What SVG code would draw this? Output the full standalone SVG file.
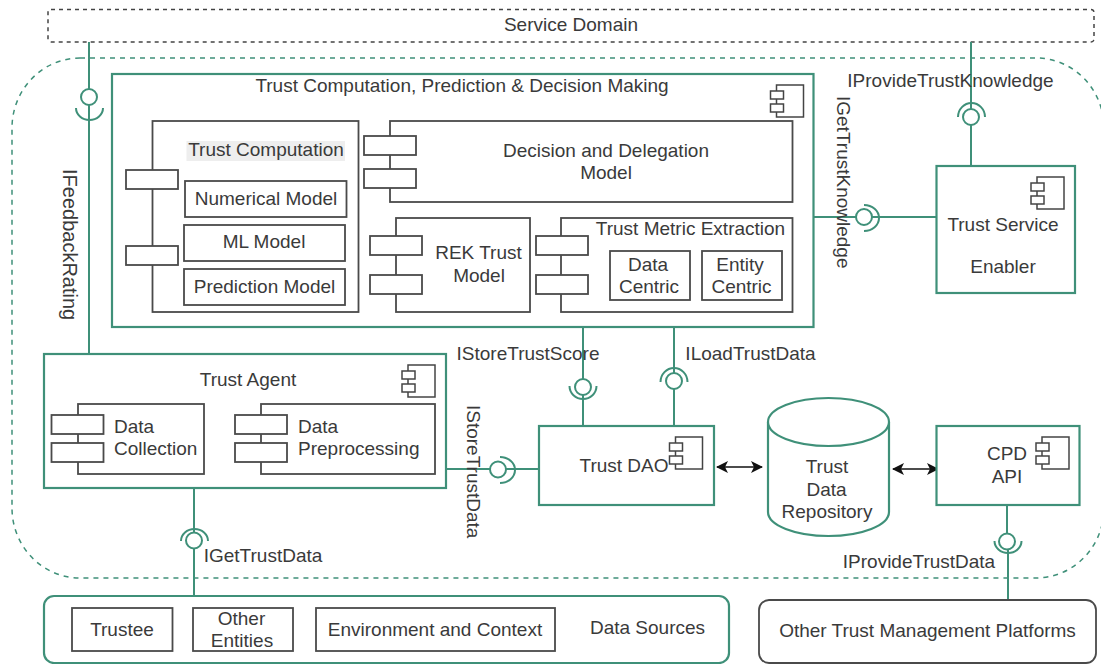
<svg xmlns="http://www.w3.org/2000/svg" width="1101" height="664" viewBox="0 0 1101 664">
<style>
text{font-family:"Liberation Sans",Arial,sans-serif;font-size:19px;fill:#3a3a3a;text-anchor:middle}
.s{text-anchor:start}
.g{fill:#fff;stroke:#3f9079;stroke-width:2.2}
.k{fill:#fff;stroke:#4a4a4a;stroke-width:1.8}
.i{fill:#fff;stroke:#444;stroke-width:1.5}
.c{fill:none;stroke:#3f9079;stroke-width:2}
.l{fill:#fff;stroke:#3f9079;stroke-width:2}
.a{fill:none;stroke:#111;stroke-width:1.6;marker-start:url(#ah);marker-end:url(#ah)}
</style>
<defs>
<marker id="ah" markerWidth="13" markerHeight="12" refX="11" refY="6" orient="auto-start-reverse" markerUnits="userSpaceOnUse" viewBox="0 0 13 12"><path d="M0 0L12 6L0 12L3 6Z" fill="#111"/></marker>
<g id="icon"><rect class="i" x="6" y="0" width="27" height="32"/><rect class="i" x="0" y="6" width="13" height="8"/><rect class="i" x="0" y="19" width="13" height="8"/></g>
</defs>
<rect x="12" y="58" width="1092" height="520" rx="68" ry="70" fill="none" stroke="#3f9079" stroke-width="1.500" stroke-dasharray="5 5"/>
<g id="service-domain"><rect x="48" y="9.500" width="1046" height="32.500" rx="3" fill="none" stroke="#444" stroke-width="1.500" stroke-dasharray="4 4"/><text x="571" y="31">Service Domain</text></g>
<g id="connectors">
<path class="c" d="M89 42V354M971 42V166M814 217H936M583 327V426M674 327V426M446 469H539M194 488V596M1007 505V535M1008 545V600"/>
<path class="c" d="M76 108A13.500 12 0 0 0 103 108M958 117A13.500 14 0 0 1 985 117M864 205A15 13 0 0 1 864 231M569.500 386A13.500 13 0 0 0 596.500 386M660.500 382A13.500 14 0 0 1 687.500 382M500 457A15 13 0 0 1 500 483M181 541A13.500 12 0 0 1 208 541M994.500 541A13.500 12 0 0 0 1021.500 541"/>
<circle class="l" cx="89" cy="97" r="8"/><circle class="l" cx="971" cy="117" r="8"/><circle class="l" cx="864" cy="217" r="8"/><circle class="l" cx="583" cy="387" r="8"/><circle class="l" cx="674" cy="381" r="8"/><circle class="l" cx="498" cy="469.500" r="8"/><circle class="l" cx="194" cy="540.500" r="8"/><circle class="l" cx="1007" cy="541.500" r="8"/>
<path class="a" d="M717 467H762"/><path class="a" d="M893 469H938"/>
</g>
<g id="trust-computation-prediction">
<rect class="g" x="112" y="74" width="701.500" height="253"/>
<text x="462" y="92">Trust Computation, Prediction &amp; Decision Making</text>
<use href="#icon" x="770.500" y="85"/>
</g>
<g id="trust-computation">
<rect class="k" x="152.500" y="121" width="206" height="191"/>
<rect x="186.500" y="141" width="158.500" height="20" fill="#eee"/>
<text x="266" y="156">Trust Computation</text>
<rect class="k" x="126" y="170" width="52" height="19"/><rect class="k" x="126" y="246" width="52" height="19"/>
<rect class="k" x="185" y="181" width="161.500" height="36"/><text x="266" y="205">Numerical Model</text>
<rect class="k" x="184" y="225" width="161" height="36"/><text x="264" y="248">ML Model</text>
<rect class="k" x="184" y="269" width="161" height="36"/><text x="264.500" y="293">Prediction Model</text>
</g>
<g id="decision-delegation">
<rect class="k" x="390" y="121" width="402.500" height="81"/>
<rect class="k" x="364" y="136" width="52" height="19"/><rect class="k" x="364" y="169" width="52" height="19"/>
<text x="606" y="157">Decision and Delegation</text><text x="606" y="179">Model</text>
</g>
<g id="rek-trust-model">
<rect class="k" x="396" y="218" width="134" height="94"/>
<rect class="k" x="370" y="236" width="52" height="19"/><rect class="k" x="370" y="275" width="52" height="19"/>
<text x="478.500" y="259">REK Trust</text><text x="479" y="282">Model</text>
</g>
<g id="trust-metric-extraction">
<rect class="k" x="561" y="218" width="231.500" height="94"/>
<rect class="k" x="536" y="236" width="52" height="19"/><rect class="k" x="536" y="275" width="52" height="19"/>
<text x="690.500" y="235">Trust Metric Extraction</text>
<rect class="k" x="610" y="251" width="80" height="49"/><text x="648" y="271">Data</text><text x="649" y="293">Centric</text>
<rect class="k" x="702" y="251" width="80" height="49"/><text x="740" y="271">Entity</text><text x="741.500" y="293">Centric</text>
</g>
<g id="trust-service-enabler">
<rect class="g" x="936.500" y="166" width="138.500" height="127"/>
<use href="#icon" x="1031" y="177"/>
<text x="1003" y="231">Trust Service</text><text x="1003" y="273">Enabler</text>
</g>
<g id="trust-agent">
<rect class="g" x="44" y="354" width="402" height="134"/>
<text x="248" y="386">Trust Agent</text>
<use href="#icon" x="402" y="365"/>
<rect class="k" x="78" y="404" width="126" height="70"/>
<rect class="k" x="51.500" y="415" width="52" height="19"/><rect class="k" x="51.500" y="443" width="52" height="19"/>
<text class="s" x="114" y="433">Data</text><text class="s" x="114" y="455">Collection</text>
<rect class="k" x="261" y="404" width="174" height="70"/>
<rect class="k" x="235" y="415" width="52" height="19"/><rect class="k" x="235" y="443" width="52" height="19"/>
<text class="s" x="298" y="433">Data</text><text class="s" x="298" y="455">Preprocessing</text>
</g>
<g id="trust-dao">
<rect class="g" x="539" y="426" width="175" height="79"/>
<text x="624" y="472">Trust DAO</text>
<use href="#icon" x="669.500" y="437"/>
</g>
<g id="trust-data-repository">
<path class="g" d="M768 422V512A60.500 24 0 0 0 889 512V422"/><ellipse class="g" cx="828.500" cy="422" rx="60.500" ry="24"/>
<text x="827" y="473">Trust</text><text x="826.500" y="496">Data</text><text x="827" y="518">Repository</text>
</g>
<g id="cpd-api">
<rect class="g" x="936.500" y="426" width="143" height="79"/>
<text x="1007" y="460">CPD</text><text x="1007" y="483">API</text>
<use href="#icon" x="1036" y="437"/>
</g>
<g id="data-sources">
<rect class="g" x="44" y="596" width="685" height="67" rx="10"/>
<rect class="k" x="72" y="608" width="100.500" height="43"/><text x="122" y="636">Trustee</text>
<rect class="k" x="193" y="608" width="100" height="43"/><text x="241.500" y="625">Other</text><text x="242" y="647">Entities</text>
<rect class="k" x="316" y="608" width="239" height="43"/><text x="435" y="636">Environment and Context</text>
<text x="647.500" y="634">Data Sources</text>
</g>
<g id="other-platforms">
<rect x="759" y="600" width="337" height="63" rx="10" fill="#fff" stroke="#4a4a4a" stroke-width="1.800"/>
<text x="927.500" y="637">Other Trust Management Platforms</text>
</g>
<g id="labels">
<text x="950.500" y="87">IProvideTrustKnowledge</text>
<text x="528" y="360">IStoreTrustScore</text>
<text x="750.500" y="360">ILoadTrustData</text>
<text x="263" y="562">IGetTrustData</text>
<text x="919" y="568">IProvideTrustData</text>
<text class="s" style="font-size:20px" transform="translate(63 169) rotate(90)">IFeedbackRating</text>
<text class="s" transform="translate(837 96) rotate(90)">IGetTrustKnowledge</text>
<text class="s" transform="translate(467 405) rotate(90)">IStoreTrustData</text>
</g>
</svg>
